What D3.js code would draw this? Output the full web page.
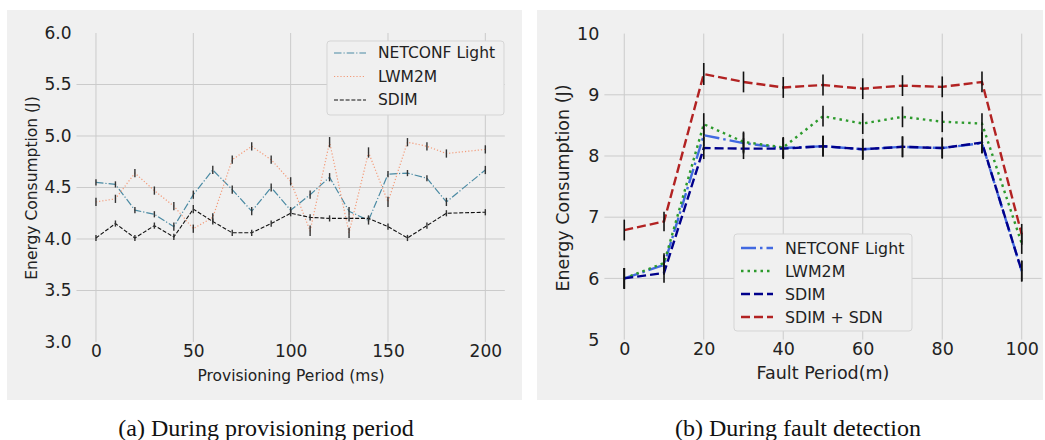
<!DOCTYPE html>
<html>
 <head>
  <title>Energy Consumption</title>
  <style>
  body { margin: 0; background: #fff; }
  svg text { font-family: "DejaVu Sans", sans-serif; fill: #222; }
  svg text.caption { font-family: "Liberation Serif", "Times New Roman", serif; fill: #111; }
  </style>
 </head>
 <body>
  <script src="https://cdnjs.cloudflare.com/ajax/libs/d3/7.8.3/d3.min.js"></script>
  <script>
   // (a) provisioning period
   const provPeriod = [0, 10, 20, 30, 40, 50, 60, 70, 80, 90, 100, 110, 120, 130, 140, 150, 160, 170, 180, 200];
   const provNetconf = [4.55, 4.53, 4.28, 4.24, 4.12, 4.43, 4.67, 4.48, 4.27, 4.50, 4.28, 4.43, 4.60, 4.27, 4.18, 4.63, 4.64, 4.59, 4.36, 4.67];
   const provLwm2m = [4.36, 4.39, 4.64, 4.47, 4.32, 4.10, 4.21, 4.77, 4.90, 4.77, 4.56, 4.08, 4.94, 4.06, 4.84, 4.36, 4.94, 4.90, 4.83, 4.87];
   const provSdim = [4.01, 4.15, 4.01, 4.13, 4.02, 4.29, 4.17, 4.06, 4.06, 4.15, 4.25, 4.21, 4.20, 4.20, 4.20, 4.12, 4.01, 4.13, 4.25, 4.26];
   const provNetconfErr = [0.03, 0.03, 0.03, 0.03, 0.04, 0.04, 0.04, 0.04, 0.04, 0.04, 0.03, 0.04, 0.04, 0.04, 0.04, 0.03, 0.03, 0.03, 0.04, 0.04];
   const provLwm2mErr = [0.04, 0.04, 0.04, 0.04, 0.04, 0.04, 0.04, 0.04, 0.04, 0.04, 0.04, 0.05, 0.05, 0.05, 0.05, 0.05, 0.04, 0.04, 0.04, 0.04];
   const provSdimErr = [0.03, 0.03, 0.03, 0.03, 0.03, 0.04, 0.03, 0.03, 0.03, 0.03, 0.03, 0.03, 0.03, 0.03, 0.03, 0.03, 0.03, 0.03, 0.03, 0.03];
   const provYTicks = [3.0, 3.5, 4.0, 4.5, 5.0, 5.5, 6.0];
   const provXTicks = [0, 50, 100, 150, 200];

   // (b) fault detection
   const faultPeriod = [0, 10, 20, 30, 40, 50, 60, 70, 80, 90, 100];
   const faultNetconf = [6.00, 6.22, 8.34, 8.21, 8.13, 8.16, 8.11, 8.15, 8.13, 8.21, 6.12];
   const faultLwm2m = [6.00, 6.25, 8.52, 8.23, 8.14, 8.65, 8.53, 8.64, 8.56, 8.53, 6.57];
   const faultSdim = [6.00, 6.09, 8.13, 8.12, 8.12, 8.16, 8.11, 8.15, 8.13, 8.22, 6.12];
   const faultSdn = [6.79, 6.93, 9.34, 9.21, 9.12, 9.16, 9.10, 9.15, 9.13, 9.21, 6.72];
   const faultErr = [0.17, 0.16, 0.18, 0.17, 0.17, 0.17, 0.17, 0.17, 0.17, 0.17, 0.17];
   const faultYTicks = [5, 6, 7, 8, 9, 10];
   const faultXTicks = [0, 20, 40, 60, 80, 100];

   const w = 1045, h = 440;
   const svg = d3.select("body").append("svg").attr("width", w).attr("height", h);

   function panel(opt) {
    const g = svg.append("g");
    g.append("rect").attr("x", opt.bg[0]).attr("y", opt.bg[1])
     .attr("width", opt.bg[2]).attr("height", opt.bg[3]).attr("fill", "#f0f0f0");
    const x = d3.scaleLinear().domain(opt.xDomain).range(opt.xRange);
    const y = d3.scaleLinear().domain(opt.yDomain).range(opt.yRange);
    // grid
    g.selectAll(".hg").data(opt.yTicks.slice(1, -1)).enter().append("line")
     .attr("x1", opt.xRange[0]).attr("x2", opt.xRange[1])
     .attr("y1", d => y(d)).attr("y2", d => y(d))
     .attr("stroke", "#cbcbcb").attr("stroke-width", 1);
    g.selectAll(".vg").data(opt.xTicks).enter().append("line")
     .attr("x1", d => x(d)).attr("x2", d => x(d))
     .attr("y1", opt.yRange[0]).attr("y2", opt.yRange[1])
     .attr("stroke", "#cbcbcb").attr("stroke-width", 1);
    // axes (labels only, no spines)
    const ya = g.append("g").attr("transform", "translate(" + opt.xRange[0] + ",0)")
     .call(d3.axisLeft(y).tickValues(opt.yTicks).tickFormat(opt.yFmt).tickSize(0).tickPadding(opt.yPad));
    const xa = g.append("g").attr("transform", "translate(0," + opt.yRange[0] + ")")
     .call(d3.axisBottom(x).tickValues(opt.xTicks).tickSize(0).tickPadding(3));
    [ya, xa].forEach(a => {
     a.select(".domain").remove();
     a.selectAll("text").attr("font-size", opt.tickSize).attr("font-family", "DejaVu Sans").attr("fill", "#222");
    });
    // lines + error bars
    opt.series.forEach(s => {
     const pts = opt.xs.map((v, i) => [v, s.values[i], s.err[i]]);
     g.append("path").datum(pts)
      .attr("d", d3.line().x(d => x(d[0])).y(d => y(d[1])))
      .attr("fill", "none").attr("stroke", s.color).attr("stroke-width", s.width)
      .attr("stroke-dasharray", s.dash);
     g.selectAll(null).data(pts).enter().append("line")
      .attr("x1", d => x(d[0])).attr("x2", d => x(d[0]))
      .attr("y1", d => y(d[1] - d[2])).attr("y2", d => y(d[1] + d[2]))
      .attr("stroke", opt.errColor).attr("stroke-width", opt.errWidth);
    });
    // axis titles
    g.append("text").attr("x", opt.xLabelPos[0]).attr("y", opt.xLabelPos[1])
     .attr("text-anchor", "middle").attr("font-size", opt.labelSize).text(opt.xLabel);
    g.append("text").attr("transform", "translate(" + opt.yLabelPos[0] + "," + opt.yLabelPos[1] + ") rotate(-90)")
     .attr("text-anchor", "middle").attr("dy", "0.35em").attr("font-size", opt.labelSize).text(opt.yLabel);
    // legend
    const L = opt.legend;
    g.append("rect").attr("x", L.x).attr("y", L.y).attr("width", L.w).attr("height", L.h)
     .attr("rx", 3).attr("fill", "#f0f0f0").attr("stroke", "#d5d5d5").attr("stroke-width", 1);
    opt.series.forEach((s, i) => {
     const ly = L.y + L.first + i * L.step;
     g.append("line").attr("x1", L.x + 7).attr("x2", L.x + 39).attr("y1", ly).attr("y2", ly)
      .attr("stroke", s.color).attr("stroke-width", s.width).attr("stroke-dasharray", s.dash);
     g.append("text").attr("x", L.x + 51).attr("y", ly).attr("dy", "0.35em")
      .attr("font-size", L.size).text(s.name);
    });
    // caption
    svg.append("text").attr("class", "caption").attr("x", opt.caption[0]).attr("y", opt.caption[1])
     .attr("text-anchor", "middle").attr("font-size", 24).text(opt.caption[2]);
   }

   panel({
    bg: [7, 10, 515, 390],
    xs: provPeriod, xDomain: [-10, 210], xRange: [76.5, 504.8],
    yDomain: [3, 6], yRange: [342, 33],
    xTicks: provXTicks, yTicks: provYTicks, yFmt: d3.format(".1f"), yPad: 5,
    tickSize: 17, labelSize: 15.5,
    xLabel: "Provisioning Period (ms)", xLabelPos: [291, 381],
    yLabel: "Energy Consumption (J)", yLabelPos: [32, 188],
    errColor: "#333", errWidth: 1.4,
    series: [
     {name: "NETCONF Light", values: provNetconf, err: provNetconfErr, color: "#4a8aa3", width: 1.2, dash: "7.5,2,1.2,2"},
     {name: "LWM2M", values: provLwm2m, err: provLwm2mErr, color: "#f39a78", width: 1.2, dash: "1.2,2"},
     {name: "SDIM", values: provSdim, err: provSdimErr, color: "#111", width: 1.1, dash: "4,1.8"}
    ],
    legend: {x: 327, y: 41, w: 177, h: 74, first: 12, step: 23.5, size: 15.5},
    caption: [266, 436, "(a) During provisioning period"]
   });

   panel({
    bg: [537, 10, 506, 390],
    xs: faultPeriod, xDomain: [-5, 105], xRange: [604.4, 1041.6],
    yDomain: [5, 10], yRange: [339.6, 33.6],
    xTicks: faultXTicks, yTicks: faultYTicks, yFmt: d3.format("d"), yPad: 5,
    tickSize: 17.5, labelSize: 17.5,
    xLabel: "Fault Period(m)", xLabelPos: [823, 379],
    yLabel: "Energy Consumption (J)", yLabelPos: [563, 188],
    errColor: "#111", errWidth: 1.6,
    series: [
     {name: "NETCONF Light", values: faultNetconf, err: faultErr, color: "#4169e1", width: 2.4, dash: "15,4,2.5,4"},
     {name: "LWM2M", values: faultLwm2m, err: faultErr, color: "#2c9a2c", width: 2.4, dash: "2.5,4"},
     {name: "SDIM", values: faultSdim, err: faultErr, color: "#00008b", width: 2.4, dash: "9,4"},
     {name: "SDIM + SDN", values: faultSdn, err: faultErr, color: "#b22222", width: 2.4, dash: "9,4"}
    ],
    legend: {x: 734, y: 234, w: 178, h: 97, first: 14, step: 23, size: 15.8},
    caption: [798, 436, "(b) During fault detection"]
   });
  </script>
 </body>
</html>
